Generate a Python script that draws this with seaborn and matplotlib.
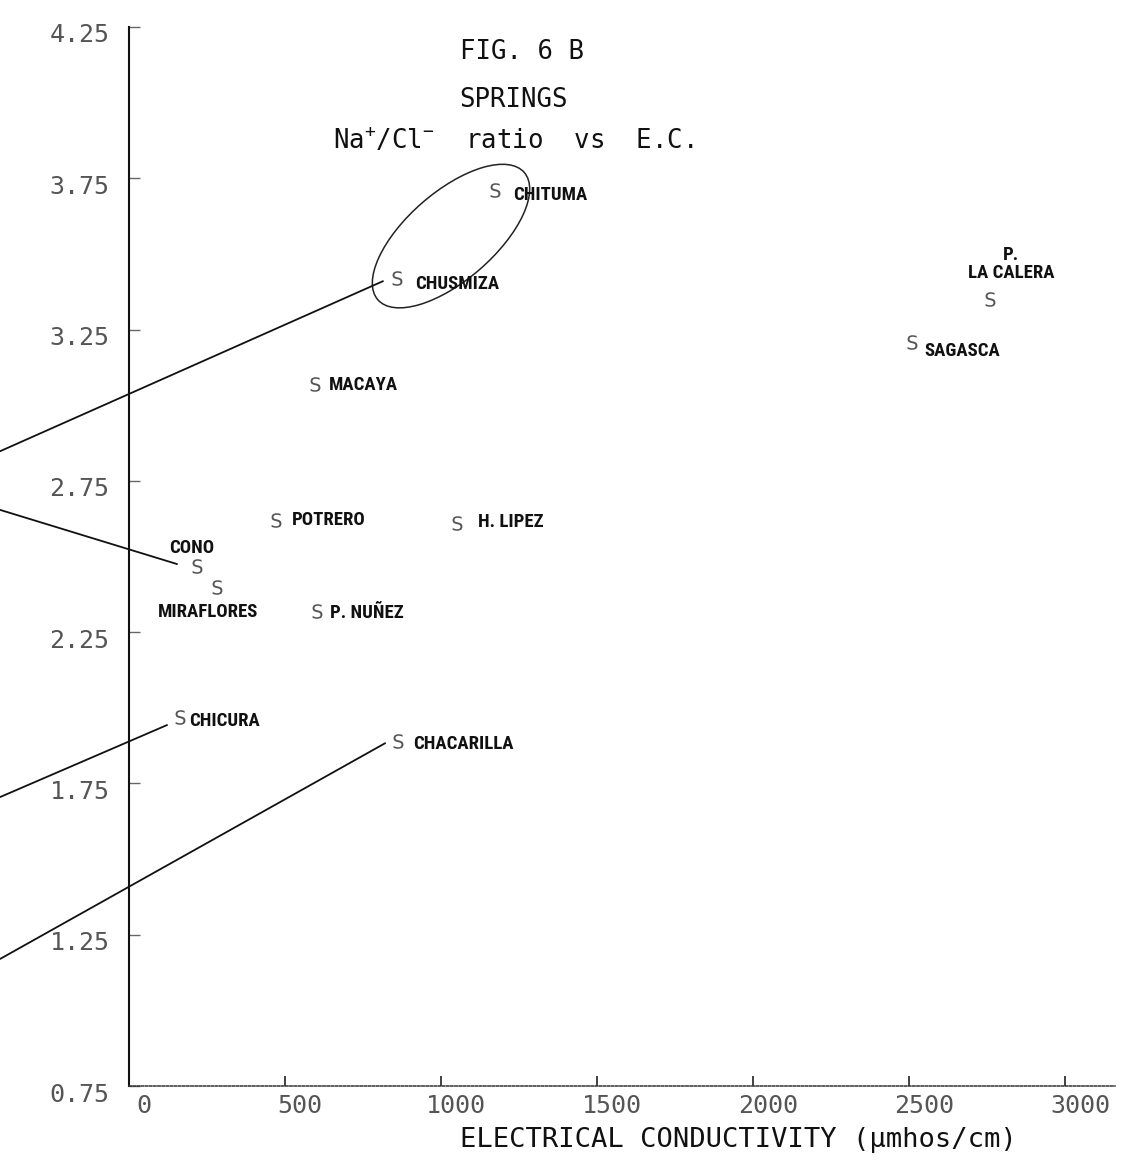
import matplotlib
matplotlib.use("Agg")
import numpy as np
import pandas as pd
import seaborn as sns
import matplotlib.pyplot as plt
from matplotlib.patches import Ellipse
from matplotlib.transforms import ScaledTranslation
from matplotlib import font_manager

# ---------------- data ----------------
springs = ["CHITUMA", "CHUSMIZA", "P.\nLA CALERA", "SAGASCA", "MACAYA", "POTRERO",
           "H. LIPEZ", "CONO", "MIRAFLORES", "P. NUÑEZ", "CHICURA", "CHACARILLA"]
ec_values = [1173, 859, 2760, 2510, 596, 471, 1051, 218, 282, 603, 163, 862]
na_cl_ratio = [3.71, 3.42, 3.35, 3.21, 3.07, 2.62, 2.61, 2.47, 2.40, 2.32, 1.97, 1.89]

x_ticks = [0, 500, 1000, 1500, 2000, 2500, 3000]
y_ticks = [0.75, 1.25, 1.75, 2.25, 2.75, 3.25, 3.75, 4.25]

# leader lines running off the left edge (start at a spring, end off-chart)
leader_x = [[814, -413], [154, -413], [122, -413], [821, -413]]
leader_y = [[3.41, 2.848], [2.475, 2.654], [1.943, 1.705], [1.883, 1.17]]

# hand-drawn loop around CHITUMA / CHUSMIZA (centre in data units)
loop_center_x = 1032
loop_center_y = 3.559

df = pd.DataFrame({"spring": springs, "ec": ec_values, "ratio": na_cl_ratio})

# ---------------- layout / style ----------------
W, H, DPI = 1126, 1176, 100
label_offsets = {  # pixel offsets of name labels from their marker (layout only)
    "CHITUMA": (18, -5, "left"), "CHUSMIZA": (18, -6, "left"),
    "P.\nLA CALERA": (21, 35, "center"), "SAGASCA": (12, -9, "left"),
    "MACAYA": (14, -1, "left"), "POTRERO": (16, 0, "left"),
    "H. LIPEZ": (21, 1, "left"), "CONO": (-28, 18, "left"),
    "MIRAFLORES": (-59, -25, "left"), "P. NUÑEZ": (13, -2, "left"),
    "CHICURA": (9, -4, "left"), "CHACARILLA": (15, -3, "left"),
}

sns.set_style("white")
available = {f.name for f in font_manager.fontManager.ttflist}
narrow = [n for n in ["Liberation Sans Narrow", "Roboto Condensed", "Open Sans Condensed",
                      "DejaVu Sans Condensed", "Noto Sans Condensed"] if n in available]
if narrow:
    label_family, label_size = narrow[0], 13.5
else:
    label_family, label_size = "Liberation Sans", 12.0
mono = "DejaVu Sans Mono"
plt.rcParams["font.family"] = [mono, "DejaVu Sans"]
plt.rcParams["mathtext.default"] = "regular"

fig = plt.figure(figsize=(W / DPI, H / DPI), dpi=DPI)
ax_left, ax_right, ax_bottom, ax_top = 129, 1115, 1086, 27
ax = fig.add_axes([ax_left / W, 1 - ax_bottom / H, (ax_right - ax_left) / W, (ax_bottom - ax_top) / H])

sns.scatterplot(data=df, x="ec", y="ratio", marker=r"$\mathsf{S}$", s=110,
                color="#555555", linewidth=0, ax=ax, legend=False, zorder=3)

ax.set_xlim(0, 3160)
ax.set_ylim(0.75, 4.25)

# spring names
for name, xv, yv in zip(springs, ec_values, na_cl_ratio):
    dx, dy, ha = label_offsets[name]
    ax.annotate(name, xy=(xv, yv), xytext=(dx, dy), textcoords="offset pixels",
                ha=ha, va="center", multialignment="center",
                fontsize=label_size, fontweight="bold", family=[label_family, "DejaVu Sans"],
                color="#111111", linespacing=1.0)

# leader lines
for lx, ly in zip(leader_x, leader_y):
    ax.plot(lx, ly, color="#111111", lw=1.3, clip_on=False, zorder=2)

# loop around CHITUMA/CHUSMIZA
loop = Ellipse((0, 0), width=1.94, height=0.88, angle=41, fill=False,
               ec="#222222", lw=1.1,
               transform=fig.dpi_scale_trans + ScaledTranslation(loop_center_x, loop_center_y, ax.transData),
               clip_on=False)
ax.add_patch(loop)

# axes styling
for s in ["top", "right"]:
    ax.spines[s].set_visible(False)
ax.spines["left"].set_color("#111111")
ax.spines["left"].set_linewidth(1.5)
ax.spines["bottom"].set_color("#333333")
ax.spines["bottom"].set_linewidth(1.1)
ax.spines["bottom"].set_linestyle((0, (1.5, 1.2)))

ax.set_xticks(x_ticks)
ax.set_xticklabels([str(v) for v in x_ticks])
ax.set_yticks(y_ticks)
ax.set_yticklabels([f"{v:.2f}" for v in y_ticks])
ax.tick_params(axis="x", bottom=True, direction="in", length=7, width=1.3, color="#333333",
               labelsize=18, labelcolor="#555555", pad=6)
ax.tick_params(axis="y", left=True, direction="in", length=8, width=1.0, color="#666666",
               labelsize=18, labelcolor="#555555", pad=14)
for lab in ax.get_xticklabels():
    lab.set_transform(lab.get_transform() + ScaledTranslation(15 / DPI, 0, fig.dpi_scale_trans))
for lab in ax.get_yticklabels():
    lab.set_transform(lab.get_transform() + ScaledTranslation(0, -6 / DPI, fig.dpi_scale_trans))

ax.set_xlabel("ELECTRICAL CONDUCTIVITY (µmhos/cm)", fontsize=19.5, color="#111111")
ax.xaxis.set_label_coords((738 - ax_left) / (ax_right - ax_left), -(1140 - ax_bottom) / (ax_bottom - ax_top))
ax.xaxis.label.set_va("center")
ax.set_ylabel("")

# titles
fig.text(460 / W, 1 - 52 / H, "FIG. 6 B", fontsize=18.5, ha="left", va="center", color="#111111")
fig.text(459 / W, 1 - 100 / H, "SPRINGS", fontsize=18.5, ha="left", va="center", color="#111111")
fig.text(333 / W, 1 - 140 / H, r"Na$^{+}$/Cl$^{-}$  ratio  vs  E.C.", fontsize=18.5,
         ha="left", va="center", color="#111111")

fig.savefig("out.png", dpi=DPI)
